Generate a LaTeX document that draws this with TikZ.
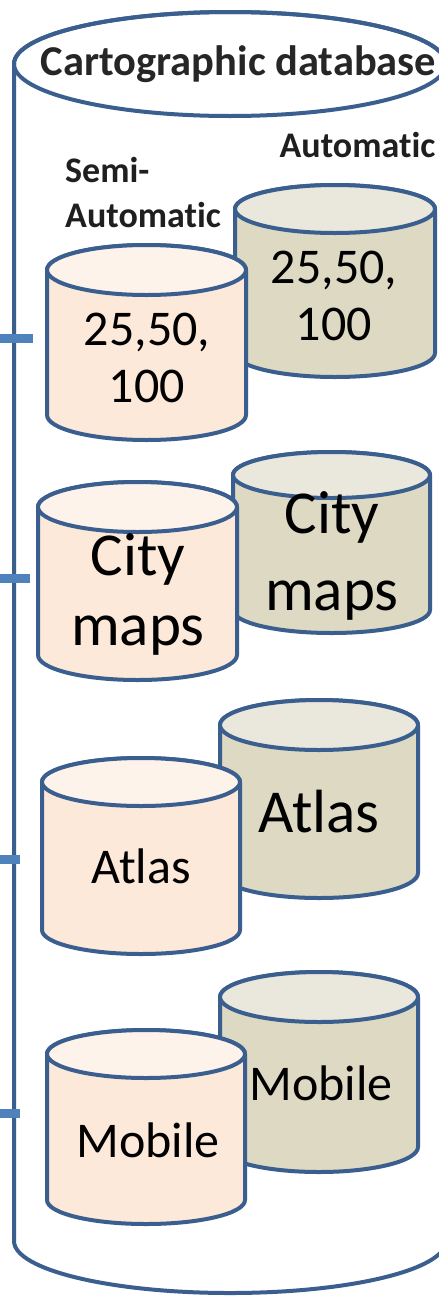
\documentclass[tikz,border=0pt]{standalone}
\usepackage{fontspec}
\setmainfont{Carlito}[Ligatures={NoCommon,NoContextual}]
\definecolor{edge}{HTML}{3A5F8F}
\definecolor{tick}{HTML}{4F81BD}
\definecolor{semibody}{HTML}{FDE9D9}
\definecolor{semitop}{HTML}{FEF3EB}
\definecolor{autobody}{HTML}{DDD9C3}
\definecolor{autotop}{HTML}{EAE7DC}
\newcommand\dbcyl[7]{%
  % #1 cx, #2 ytop, #3 ybot, #4 rx, #5 ry, #6 body, #7 top
  \filldraw[cylline,fill=#6] ({#1-#4},{-#2}) -- ({#1-#4},{-#3})
    arc[start angle=180,end angle=360,x radius=#4,y radius=#5]
    -- ({#1+#4},{-#2}) arc[start angle=0,end angle=180,x radius=#4,y radius=#5] -- cycle;
  \filldraw[cylline,fill=#7] (#1,{-#2}) ellipse[x radius=#4,y radius=#5];
}
\newcommand\Autom{Automat\kern0pt ic}
\tikzset{
  cylline/.style={draw=edge,line width=4pt,line join=round},
  ticklbl/.style={draw=tick,line width=9pt},
  lbl/.style={font=\bfseries\fontsize{36}{40}\selectfont,inner sep=0pt,text=black!88},
  txtA/.style={font=\fontsize{50}{57}\selectfont,inner sep=0pt,anchor=base},
  txtB/.style={font=\fontsize{61}{70}\selectfont,inner sep=0pt,anchor=base},
}
\begin{document}
\begin{tikzpicture}[x=1pt,y=1pt]
\useasboundingbox (0,0) rectangle (439,-1296);
% big database cylinder
\filldraw[cylline,fill=white] (14,-64) -- (14,-1241)
  arc[start angle=180,end angle=360,x radius=216,y radius=52]
  -- (446,-64) arc[start angle=0,end angle=180,x radius=216,y radius=52] -- cycle;
\draw[cylline] (230,-64) ellipse[x radius=216,y radius=52];
\node[font=\bfseries\fontsize{42.5}{48}\selectfont,inner sep=0pt,anchor=base,text=black!85] (title) at (238.5,-75) {Cartographic database};
% ticks
\coordinate (t1a) at (0,-338); \coordinate (t1b) at (33,-338);
\coordinate (t2a) at (0,-578); \coordinate (t2b) at (30,-578);
\coordinate (t3a) at (0,-859); \coordinate (t3b) at (20,-859);
\coordinate (t4a) at (0,-1113); \coordinate (t4b) at (20,-1113);
\draw[ticklbl] (t1a) -- (t1b);
\draw[ticklbl] (t2a) -- (t2b);
\draw[ticklbl] (t3a) -- (t3b);
\draw[ticklbl] (t4a) -- (t4b);
% labels
\node[lbl,anchor=base] (auto) at (357.5,-157) {\Autom};
\node[lbl,anchor=base west] (semi1) at (65,-182) {Semi-};
\node[lbl,anchor=base west] (semi2) at (65,-227) {\Autom};
% row 1
\dbcyl{335}{209}{353}{100}{24}{autobody}{autotop}
\node[txtA] (a1a) at (334,-283) {25,50,};
\node[txtA] (a1b) at (334,-340) {100};
\dbcyl{146.5}{270}{415}{99.5}{25}{semibody}{semitop}
\node[txtA] (s1a) at (147,-345) {25,50,};
\node[txtA] (s1b) at (147,-402) {100};
% row 2
\dbcyl{331.5}{475}{610}{98.5}{23}{autobody}{autotop}
\node[txtB] (a2a) at (332,-533) {City};
\node[txtB] (a2b) at (332,-610) {maps};
\dbcyl{137.5}{507}{655}{99.5}{25}{semibody}{semitop}
\node[txtB] (s2a) at (138,-575) {City};
\node[txtB] (s2b) at (138,-645) {maps};
% row 3
\dbcyl{319}{725}{873}{99}{25}{autobody}{autotop}
\node[txtB] (a3) at (319,-832) {Atlas};
\dbcyl{141}{782}{930}{99}{24}{semibody}{semitop}
\node[txtA] (s3) at (141,-883) {Atlas};
% row 4
\dbcyl{319}{997}{1147}{99}{25}{autobody}{autotop}
\node[txtA] (a4) at (321,-1100) {Mobile};
\dbcyl{146}{1054}{1200}{99}{24}{semibody}{semitop}
\node[txtA] (s4) at (148,-1157) {Mobile};
\end{tikzpicture}
\end{document}
